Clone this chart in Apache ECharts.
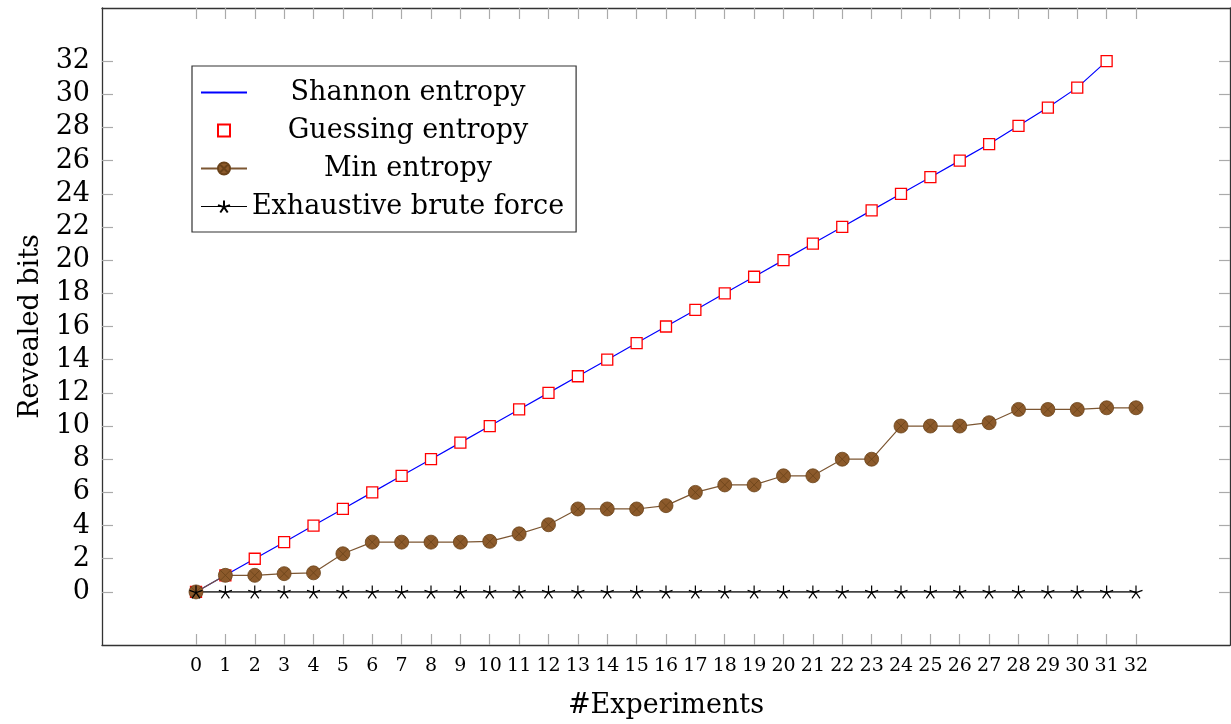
<!DOCTYPE html>
<html>
<head>
<meta charset="utf-8">
<script src="https://cdn.jsdelivr.net/npm/echarts@6/dist/echarts.min.js"></script>
<style>
  html, body { margin: 0; padding: 0; background: #fff; }
  #chart { width: 1231px; height: 724px; }
</style>
</head>
<body>
<div id="chart"></div>
<script>
// values
var experiments = [0,1,2,3,4,5,6,7,8,9,10,11,12,13,14,15,16,17,18,19,20,21,22,23,24,25,26,27,28,29,30,31,32];
var shannon = [0,1,2,3,4,5,6,7,8,9,10,11,12,13,14,15,16,17,18,19,20,21,22,23,24,25,26,27,28.1,29.2,30.4,32];
var guessing = [0,1,2,3,4,5,6,7,8,9,10,11,12,13,14,15,16,17,18,19,20,21,22,23,24,25,26,27,28.1,29.2,30.4,32];
var minEntropy = [0,1,1,1.1,1.15,2.3,3,3,3,3,3.05,3.5,4.05,5,5,5,5.2,6,6.45,6.45,7,7,8,8,10,10,10,10.2,11,11,11,11.1,11.1];
var bruteForce = [0,0,0,0,0,0,0,0,0,0,0,0,0,0,0,0,0,0,0,0,0,0,0,0,0,0,0,0,0,0,0,0,0];
var yTicks = [0,2,4,6,8,10,12,14,16,18,20,22,24,26,28,30,32];

var FONT = 'DejaVu Serif';

var pairs = function(vals){
  var out = [];
  for (var i = 0; i < vals.length; i++) out.push([experiments[i], vals[i]]);
  return out;
};

// asterisk (5 rays) and circle-with-cross marks
var starPath = 'path://M0,0 L0,-10 M0,0 L9.51,-3.09 M0,0 L5.88,8.09 M0,0 L-5.88,8.09 M0,0 L-9.51,-3.09';
var otimesPath = 'path://M-10,0 A10,10 0 1,0 10,0 A10,10 0 1,0 -10,0 Z M-7.07,-7.07 L7.07,7.07 M-7.07,7.07 L7.07,-7.07';

var tick = { show: true, inside: true, length: 11, lineStyle: { color: '#aaa', width: 1.2 } };
var line = { show: true, onZero: false, lineStyle: { color: '#333', width: 1.3 } };

var chart = echarts.init(document.getElementById('chart'));
chart.setOption({
  animation: false,
  grid: { left: 102, right: 1, top: 8, bottom: 79, outerBoundsMode: 'none' },
  legend: {
    orient: 'vertical',
    left: 192, top: 66,
    backgroundColor: '#fff',
    borderColor: '#333', borderWidth: 1.2,
    padding: [13, 12, 12, 8],
    itemWidth: 46, itemHeight: 15, itemGap: 11,
    formatter: function(name){ return '{t|' + name + '}'; },
    textStyle: {
      rich: { t: { width: 312, align: 'center', fontFamily: FONT, fontSize: 27, color: '#000' } }
    },
    data: [
      { name: 'Shannon entropy', itemStyle: { color: 'rgba(0,0,0,0)', borderWidth: 0 } },
      'Guessing entropy', 'Min entropy',
      { name: 'Exhaustive brute force', lineStyle: { color: '#000', width: 1 } }
    ]
  },
  xAxis: [{
    type: 'value', min: -3.2, max: 35.2, position: 'bottom',
    name: '#Experiments', nameLocation: 'middle', nameGap: 47,
    nameTextStyle: { fontFamily: FONT, fontSize: 27, color: '#000' },
    axisLine: line, splitLine: { show: false },
    axisTick: Object.assign({ customValues: experiments }, tick),
    axisLabel: { customValues: experiments, fontFamily: FONT, fontSize: 19, color: '#000', margin: 12 }
  }, {
    type: 'value', min: -3.2, max: 35.2, position: 'top',
    axisLine: line, splitLine: { show: false },
    axisTick: Object.assign({ customValues: experiments }, tick),
    axisLabel: { show: false }
  }],
  yAxis: [{
    type: 'value', min: -3.2, max: 35.2, position: 'left',
    name: 'Revealed bits', nameLocation: 'middle', nameGap: 56, nameRotate: 90,
    nameTextStyle: { fontFamily: FONT, fontSize: 27, color: '#000' },
    axisLine: line, splitLine: { show: false },
    axisTick: Object.assign({ customValues: yTicks }, tick),
    axisLabel: { customValues: yTicks, fontFamily: FONT, fontSize: 27, color: '#000', margin: 12 }
  }, {
    type: 'value', min: -3.2, max: 35.2, position: 'right',
    axisLine: line, splitLine: { show: false },
    axisTick: Object.assign({ customValues: yTicks }, tick),
    axisLabel: { show: false }
  }],
  series: [
    {
      name: 'Shannon entropy', type: 'line',
      data: pairs(shannon),
      symbol: 'none', showSymbol: false,
      lineStyle: { color: '#0000ff', width: 1.2 },
      itemStyle: { color: '#0000ff' }
    },
    {
      name: 'Guessing entropy', type: 'line',
      data: pairs(guessing),
      symbol: 'rect', symbolSize: 11, showAllSymbol: true,
      lineStyle: { width: 0, opacity: 0 },
      itemStyle: { color: '#fff', borderColor: '#ff0000', borderWidth: 1.3 }
    },
    {
      name: 'Min entropy', type: 'line',
      data: pairs(minEntropy),
      symbol: otimesPath, symbolSize: 14, showAllSymbol: true,
      lineStyle: { color: '#7c5632', width: 1.2 },
      itemStyle: { color: '#8c5a2b', borderColor: '#6a4219', borderWidth: 0.8 }
    },
    {
      name: 'Exhaustive brute force', type: 'line',
      data: pairs(bruteForce),
      symbol: starPath, symbolSize: 13, showAllSymbol: true,
      lineStyle: { color: '#444', width: 1.6 },
      itemStyle: { color: '#000', borderColor: '#000', borderWidth: 1.2 }
    }
  ]
});
</script>
</body>
</html>
